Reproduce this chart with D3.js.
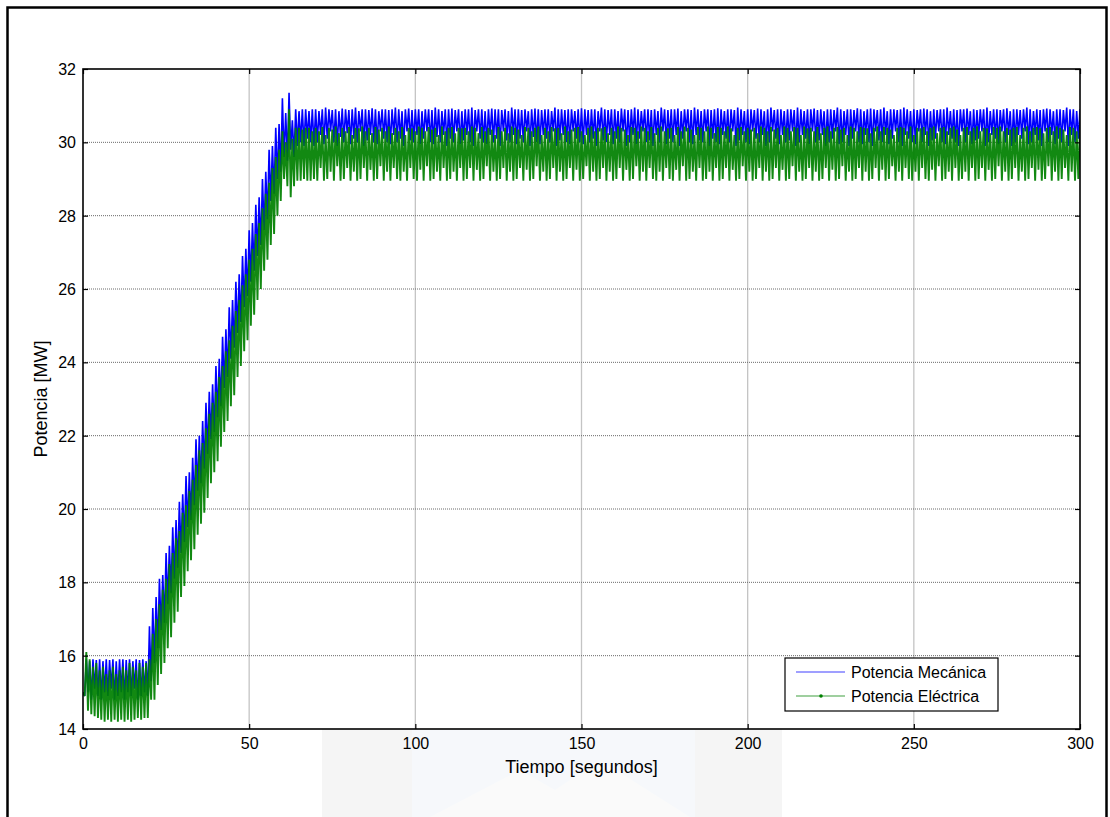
<!DOCTYPE html>
<html>
<head>
<meta charset="utf-8">
<script src="https://cdn.jsdelivr.net/npm/d3@7"></script>
<style>
  html, body { margin: 0; padding: 0; background: #fff; }
  svg { display: block; font-family: "Liberation Sans", Arial, Helvetica, sans-serif; }
</style>
</head>
<body>
<svg id="chart" width="1110" height="817"></svg>
<script>
// ---------------- DATA ----------------
const xTicks = [0, 50, 100, 150, 200, 250, 300];
const yTicks = [14, 16, 18, 20, 22, 24, 26, 28, 30, 32];
const xLabel = "Tiempo [segundos]";
const yLabel = "Potencia [MW]";
const seriesNames = ["Potencia Mecánica", "Potencia Eléctrica"];
const sampleStep = 1; // seconds between samples; each sample = one oscillation (peak, trough)

// Potencia Mecánica: peak values per second (t = 0..300)
const mechHi = [
  15.0,15.9,15.85,15.9,15.88,15.9,15.85,15.9,15.88,15.9,15.85,15.9,15.9,15.88,15.9,15.85,15.9,15.88,15.9,15.85,
  16.8,17.3,17.6,18.1,18.2,18.8,19.0,19.5,19.7,20.2,20.4,20.9,21.0,21.4,21.9,22.0,22.4,22.9,23.2,23.4,
  23.9,24.1,24.7,24.9,25.5,25.7,26.2,26.4,26.9,27.1,27.6,27.8,28.3,28.5,29.0,29.2,29.8,29.9,30.4,30.5,
  31.2,30.8,31.35,30.6,30.9,30.85,30.9,30.9,30.85,30.9,
  30.9,30.85,30.9,30.95,30.9,30.88,30.9,30.85,30.92,30.9,30.88,
  30.9,30.95,30.85,30.9,30.9,30.88,30.93,30.9,30.85,30.9,30.9,
  30.88,30.9,30.95,30.9,30.85,30.9,30.92,30.88,30.9,30.9,30.85,
  30.9,30.9,30.88,30.95,30.9,30.85,30.9,30.9,30.92,30.88,30.9,
  30.85,30.9,30.9,30.95,30.88,30.9,30.9,30.85,30.9,30.92,30.9,
  30.9,30.88,30.9,30.85,30.95,30.9,30.9,30.88,30.9,30.85,30.9,
  30.92,30.9,30.88,30.9,30.9,30.85,30.95,30.9,30.9,30.88,30.9,
  30.9,30.85,30.9,30.93,30.9,30.88,30.9,30.9,30.85,30.95,30.9,
  30.88,30.9,30.9,30.85,30.92,30.9,30.88,30.9,30.95,30.9,30.85,
  30.9,30.9,30.88,30.9,30.85,30.95,30.9,30.88,30.9,30.9,30.92,
  30.85,30.9,30.9,30.88,30.95,30.9,30.85,30.9,30.9,30.88,30.9,
  30.93,30.9,30.85,30.9,30.9,30.88,30.95,30.9,30.85,30.9,30.9,
  30.88,30.92,30.9,30.85,30.9,30.95,30.88,30.9,30.9,30.85,30.9,
  30.9,30.88,30.95,30.9,30.85,30.9,30.9,30.92,30.88,30.9,30.85,
  30.9,30.9,30.88,30.95,30.9,30.85,30.9,30.9,30.88,30.93,30.9,
  30.85,30.9,30.92,30.9,30.88,30.9,30.95,30.85,30.9,30.9,30.88,
  30.9,30.95,30.9,30.85,30.9,30.88,30.9,30.92,30.9,30.85,30.9,
  30.88,30.9,30.9,30.95,30.85,30.9,30.88,30.9,30.9,30.92,30.85,
  30.9,30.88,30.9,30.9,30.95,30.85,30.9,30.9,30.88,30.9,30.93,
  30.85,30.9,30.9,30.88,30.9,30.95,30.9,30.85,30.9,30.88,30.9,
  30.92,30.9,30.85,30.9,30.9,30.88,30.95,30.9,30.9,30.85,30.9
];
// Potencia Mecánica: trough values per second
const mechLo = [
  14.9,15.0,14.8,15.1,14.9,14.8,15.0,14.9,15.1,14.8,14.9,15.0,14.8,15.0,14.9,15.1,14.8,14.9,15.0,14.9,
  15.3,15.8,16.2,16.7,16.9,17.4,17.7,18.1,18.4,18.8,19.1,19.5,19.7,20.1,20.5,20.7,21.1,21.5,21.9,22.1,
  22.5,22.8,23.3,23.6,24.1,24.4,24.8,25.1,25.5,25.8,26.2,26.5,26.9,27.2,27.6,27.9,28.4,28.6,29.0,29.2,
  29.6,29.5,29.8,29.6,29.9,30.0,29.9,30.1,30.0,29.9,
  30.0,30.2,29.95,30.1,30.3,30.0,29.9,30.15,30.0,30.25,29.95,
  30.1,30.0,30.3,29.9,30.05,30.2,30.0,29.95,30.3,30.1,30.0,
  29.95,30.2,30.0,30.1,29.9,30.3,30.05,30.0,30.2,29.95,30.1,
  30.3,30.0,29.95,30.15,30.0,30.2,29.9,30.1,30.0,30.3,29.95,
  30.05,30.2,30.0,29.9,30.3,30.1,30.0,29.95,30.2,30.0,30.1,
  29.9,30.3,30.05,30.0,30.2,29.95,30.1,30.0,30.3,29.9,30.15,
  30.0,29.95,30.2,30.1,30.0,30.3,29.9,30.05,30.2,30.0,29.95,
  30.3,30.1,30.0,29.95,30.2,30.0,30.1,29.9,30.3,30.05,30.0,
  30.2,29.95,30.1,30.0,30.3,29.9,30.0,30.2,29.95,30.1,30.3,
  30.0,30.05,29.9,30.2,30.0,30.3,29.95,30.1,30.0,30.2,29.9,
  30.1,30.3,30.0,29.95,30.2,30.05,30.0,30.3,29.9,30.1,30.0,
  29.95,30.2,30.1,30.0,30.3,29.9,30.05,30.2,30.0,29.95,30.3,
  30.1,30.0,30.2,29.9,30.0,30.3,30.1,29.95,30.2,30.0,30.05,
  30.3,29.9,30.0,30.2,30.1,29.95,30.3,30.0,30.05,30.2,29.9,
  30.0,30.1,30.3,29.95,30.0,30.2,29.9,30.1,30.3,30.0,29.95,
  30.2,30.0,29.9,30.3,30.05,30.0,30.2,29.95,30.1,30.3,30.0,
  29.9,30.2,30.1,30.0,29.95,30.3,30.0,30.2,29.9,30.05,30.1,
  30.3,30.0,29.95,30.2,30.1,30.0,29.9,30.3,30.0,30.2,29.95,
  30.05,30.1,30.3,29.9,30.0,30.2,30.1,29.95,30.3,30.0,30.2,
  29.9,30.0,30.2,30.1,30.3,29.95,30.0,30.2,30.05,29.9,30.3,
  30.0,30.2,29.95,30.1,30.0,30.3,29.9,30.2,30.0,30.1,29.95
];
// Potencia Eléctrica: peak values per second
const elecHi = [
  15.0,16.1,15.9,15.7,15.8,15.6,15.7,15.5,15.6,15.7,15.5,15.6,15.7,15.6,15.8,15.7,15.6,15.8,15.7,15.8,
  15.9,16.6,17.0,17.4,17.8,18.1,18.5,18.8,19.2,19.4,19.9,20.1,20.5,20.8,21.2,21.6,21.8,22.2,22.6,22.9,
  23.2,23.6,23.9,24.3,24.6,25.0,25.4,25.7,26.1,26.4,26.8,27.1,27.5,27.8,28.2,28.6,28.9,29.3,29.6,29.8,
  30.3,30.0,30.9,30.1,30.4,30.4,30.35,30.4,30.4,30.3,
  30.4,30.3,30.42,30.2,30.4,30.35,30.43,30.25,30.4,30.3,30.42,
  30.2,30.4,30.38,30.43,30.3,30.4,30.25,30.42,30.35,30.4,30.3,
  30.43,30.25,30.4,30.3,30.42,30.2,30.4,30.38,30.3,30.43,30.4,
  30.3,30.42,30.35,30.4,30.2,30.43,30.3,30.4,30.42,30.25,30.4,
  30.38,30.4,30.3,30.43,30.4,30.25,30.42,30.3,30.4,30.35,30.2,
  30.42,30.3,30.4,30.25,30.43,30.4,30.35,30.2,30.42,30.4,30.3,
  30.4,30.43,30.2,30.4,30.3,30.42,30.38,30.4,30.25,30.43,30.3,
  30.35,30.4,30.42,30.3,30.2,30.4,30.43,30.3,30.4,30.38,30.42,
  30.25,30.4,30.3,30.43,30.4,30.35,30.2,30.42,30.4,30.3,30.43,
  30.4,30.3,30.42,30.25,30.4,30.43,30.3,30.38,30.4,30.2,30.42,
  30.3,30.43,30.4,30.35,30.2,30.42,30.4,30.3,30.43,30.4,30.25,
  30.42,30.4,30.3,30.43,30.38,30.2,30.4,30.42,30.3,30.4,30.35,
  30.4,30.25,30.43,30.4,30.3,30.42,30.35,30.4,30.2,30.43,30.4,
  30.3,30.42,30.4,30.2,30.43,30.38,30.4,30.3,30.42,30.25,30.4,
  30.43,30.3,30.4,30.42,30.35,30.4,30.2,30.43,30.4,30.3,30.42,
  30.4,30.38,30.25,30.4,30.43,30.3,30.42,30.4,30.35,30.2,30.4,
  30.42,30.4,30.3,30.43,30.2,30.4,30.38,30.42,30.3,30.4,30.43,
  30.25,30.4,30.42,30.3,30.4,30.43,30.35,30.2,30.4,30.42,30.3,
  30.4,30.43,30.3,30.4,30.38,30.25,30.42,30.4,30.43,30.3,30.4,
  30.35,30.4,30.42,30.2,30.4,30.43,30.3,30.4,30.42,30.38,30.25,
  30.4,30.42,30.3,30.43,30.4,30.35,30.2,30.42,30.4,30.3,30.43
];
// Potencia Eléctrica: trough values per second
const elecLo = [
  14.9,14.5,14.4,14.35,14.3,14.25,14.2,14.25,14.2,14.25,14.2,14.25,14.2,14.25,14.2,14.25,14.3,14.25,14.3,14.3,
  14.8,14.8,15.2,15.5,15.8,16.2,16.5,16.9,17.2,17.6,17.9,18.3,18.6,18.9,19.3,19.6,19.9,20.3,20.7,21.0,
  21.3,21.7,22.1,22.4,22.8,23.1,23.6,23.9,24.3,24.6,25.0,25.3,25.7,26.0,26.5,26.8,27.2,27.5,28.0,28.4,
  29.0,28.8,28.5,28.8,28.95,28.95,29.0,28.95,28.95,29.0,
  28.95,29.3,28.95,29.0,29.2,28.95,29.35,28.95,29.0,29.3,28.95,
  29.2,28.95,29.0,29.3,28.95,29.25,28.95,29.0,29.35,28.95,29.2,
  28.95,29.3,29.0,28.95,29.2,28.95,29.3,29.0,28.95,29.25,28.95,
  29.35,28.95,29.0,29.2,28.95,29.3,28.95,29.0,29.2,28.95,29.3,
  28.95,29.0,29.3,28.95,29.25,28.95,29.0,29.35,28.95,29.2,28.95,
  29.0,29.3,28.95,29.2,28.95,29.0,29.3,28.95,29.25,28.95,29.0,
  29.35,28.95,29.2,28.95,29.0,29.3,28.95,29.2,28.95,29.0,29.3,
  28.95,29.25,28.95,29.0,29.35,28.95,29.2,28.95,29.0,29.3,28.95,
  29.2,28.95,29.0,29.3,28.95,29.25,28.95,29.0,29.35,28.95,29.2,
  28.95,29.3,29.0,28.95,29.2,28.95,29.3,29.0,28.95,29.25,28.95,
  29.35,28.95,29.0,29.2,28.95,29.3,28.95,29.0,29.2,28.95,29.3,
  28.95,29.0,29.3,28.95,29.25,28.95,29.0,29.35,28.95,29.2,28.95,
  29.0,29.3,28.95,29.2,28.95,29.0,29.3,28.95,29.25,28.95,29.0,
  29.35,28.95,29.2,28.95,29.0,29.3,28.95,29.2,28.95,29.0,29.3,
  28.95,29.25,28.95,29.0,29.35,28.95,29.2,28.95,29.0,29.3,28.95,
  29.2,28.95,29.0,29.3,28.95,29.25,28.95,29.0,29.35,28.95,29.2,
  28.95,29.3,29.0,28.95,29.2,28.95,29.3,29.0,28.95,29.25,28.95,
  29.35,28.95,29.0,29.2,28.95,29.3,28.95,29.0,29.2,28.95,29.3,
  28.95,29.0,29.3,28.95,29.25,28.95,29.0,29.35,28.95,29.2,28.95,
  29.0,29.3,28.95,29.2,28.95,29.0,29.3,28.95,29.25,28.95,29.0,
  29.35,28.95,29.2,28.95,29.0,29.3,28.95,29.2,28.95,29.0,28.95
];

// ---------------- LAYOUT ----------------
const W = 1110, H = 817;
const plot = { left: 83, right: 1080, top: 69, bottom: 729 };
const colors = { mech: "#0000ff", elec: "#008000" };

const svg = d3.select("#chart");
svg.append("rect").attr("width", W).attr("height", H).attr("fill", "#fff");

// faint watermark behind the lower area
const wm = svg.append("g").attr("opacity", 0.5);
wm.append("rect").attr("x", 322).attr("y", plot.bottom).attr("width", 460).attr("height", H - plot.bottom).attr("fill", "#ececec");
wm.append("rect").attr("x", 412).attr("y", plot.bottom).attr("width", 283).attr("height", H - plot.bottom).attr("fill", "#eef3f8");
wm.append("path").attr("d", "M430,817 L520,770 L555,790 L600,760 L690,817 Z").attr("fill", "#f7f7f7");

// outer figure frame
svg.append("rect").attr("x", 7.5).attr("y", 7.5).attr("width", 1099).attr("height", 840)
  .attr("fill", "none").attr("stroke", "#000").attr("stroke-width", 2.5);

const x = d3.scaleLinear().domain([xTicks[0], xTicks[xTicks.length - 1]]).range([plot.left, plot.right]);
const y = d3.scaleLinear().domain([yTicks[0], yTicks[yTicks.length - 1]]).range([plot.bottom, plot.top]);

// axes background
svg.append("rect").attr("x", plot.left).attr("y", plot.top)
  .attr("width", plot.right - plot.left).attr("height", plot.bottom - plot.top).attr("fill", "#fff");

// grid
const grid = svg.append("g");
grid.selectAll("line.vg").data(xTicks.slice(1, -1)).join("line")
  .attr("x1", d => x(d)).attr("x2", d => x(d)).attr("y1", plot.top).attr("y2", plot.bottom)
  .attr("stroke", "#c4c4c4").attr("stroke-width", 1.3);
grid.selectAll("line.hg").data(yTicks.slice(1, -1)).join("line")
  .attr("x1", plot.left).attr("x2", plot.right).attr("y1", d => y(d)).attr("y2", d => y(d))
  .attr("stroke", "#6a6a6a").attr("stroke-width", 1).attr("stroke-dasharray", "1,1");

// clip
svg.append("clipPath").attr("id", "clip").append("rect")
  .attr("x", plot.left).attr("y", plot.top).attr("width", plot.right - plot.left).attr("height", plot.bottom - plot.top);

function zigzag(hi, lo) {
  const pts = [];
  hi.forEach((h, i) => {
    const t = i * sampleStep;
    pts.push([t, h]);
    pts.push([t + sampleStep / 2, lo[i]]);
  });
  return pts;
}
const line = d3.line().x(d => x(d[0])).y(d => y(d[1]));

const dataG = svg.append("g").attr("clip-path", "url(#clip)");
dataG.append("path").datum(zigzag(mechHi, mechLo)).attr("d", line)
  .attr("fill", "none").attr("stroke", colors.mech).attr("stroke-width", 1.6);
dataG.append("path").datum(zigzag(elecHi, elecLo)).attr("d", line)
  .attr("fill", "none").attr("stroke", colors.elec).attr("stroke-width", 1.9).attr("opacity", 0.93);

// axes (ticks inward on all sides)
const fontSize = 16;
const axB = svg.append("g").attr("transform", `translate(0,${plot.bottom})`)
  .call(d3.axisBottom(x).tickValues(xTicks).tickSizeInner(-5).tickSizeOuter(0).tickPadding(9));
const axT = svg.append("g").attr("transform", `translate(0,${plot.top})`)
  .call(d3.axisTop(x).tickValues(xTicks).tickSizeInner(-5).tickSizeOuter(0).tickFormat(""));
const axL = svg.append("g").attr("transform", `translate(${plot.left},0)`)
  .call(d3.axisLeft(y).tickValues(yTicks).tickSizeInner(-5).tickSizeOuter(0).tickPadding(7));
const axR = svg.append("g").attr("transform", `translate(${plot.right},0)`)
  .call(d3.axisRight(y).tickValues(yTicks).tickSizeInner(-5).tickSizeOuter(0).tickFormat(""));
[axB, axT, axL, axR].forEach(a => {
  a.select(".domain").remove();
  a.selectAll(".tick line").attr("stroke", "#000").attr("stroke-width", 1.2);
  a.selectAll("text").attr("font-size", fontSize).attr("fill", "#000")
    .attr("font-family", "'Liberation Sans', Arial, sans-serif");
});
axL.selectAll("text").attr("dy", "0.35em");

// axes box
svg.append("rect").attr("x", plot.left).attr("y", plot.top)
  .attr("width", plot.right - plot.left).attr("height", plot.bottom - plot.top)
  .attr("fill", "none").attr("stroke", "#000").attr("stroke-width", 1.6);

// axis labels
svg.append("text").attr("x", (plot.left + plot.right) / 2).attr("y", 773)
  .attr("text-anchor", "middle").attr("font-size", 18).text(xLabel);
svg.append("text").attr("transform", `translate(47,${(plot.top + plot.bottom) / 2}) rotate(-90)`)
  .attr("text-anchor", "middle").attr("font-size", 18).text(yLabel);

// legend
const lg = svg.append("g");
lg.append("rect").attr("x", 785).attr("y", 658).attr("width", 213).attr("height", 53)
  .attr("fill", "#fff").attr("stroke", "#000").attr("stroke-width", 1.2);
const legendItems = [
  { name: seriesNames[0], color: colors.mech, y: 672, marker: false },
  { name: seriesNames[1], color: colors.elec, y: 696, marker: true }
];
legendItems.forEach(it => {
  lg.append("line").attr("x1", 796).attr("x2", 845).attr("y1", it.y).attr("y2", it.y)
    .attr("stroke", it.color).attr("stroke-width", 1.1).attr("opacity", 0.75);
  if (it.marker) lg.append("circle").attr("cx", 821).attr("cy", it.y).attr("r", 1.8).attr("fill", it.color);
  lg.append("text").attr("x", 851).attr("y", it.y + 6).attr("font-size", 16).text(it.name);
});
</script>
</body>
</html>
